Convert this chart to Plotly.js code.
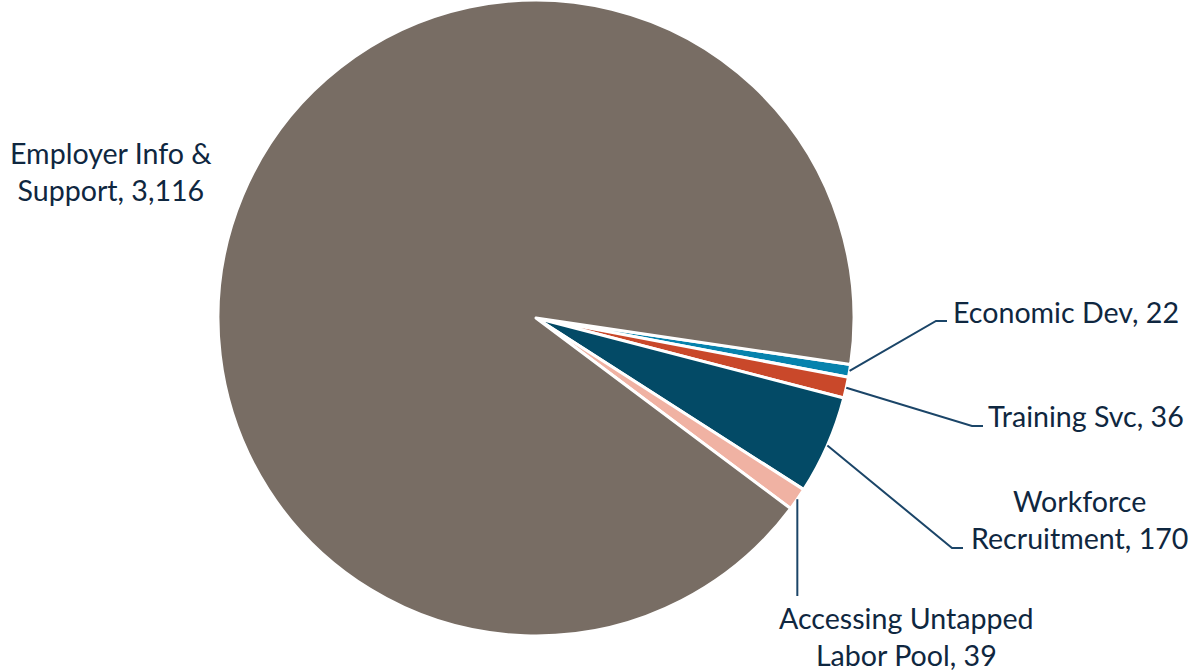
<!DOCTYPE html>
<html>
<head>
<meta charset="utf-8">
<script src="https://cdn.plot.ly/plotly-3.0.1.min.js"></script>
<style>html,body{margin:0;padding:0;background:#fff;}#chart{width:1193px;height:671px;}</style>
</head>
<body>
<div id="chart"></div>
<script>
// Data
const categories = ["Economic Dev", "Training Svc", "Workforce Recruitment", "Accessing Untapped Labor Pool", "Employer Info & Support"];
const values = [22, 36, 170, 39, 3116];
const labelTexts = ["Economic Dev, 22", "Training Svc, 36", "Workforce<br>Recruitment, 170", "Accessing Untapped<br>Labor Pool, 39", "Employer Info &<br>Support, 3,116"];
const colors = ["#0682ad", "#c9482a", "#034a66", "#f0b2a3", "#786d64"];

// Layout constants (styling)
const W = 1193, H = 671;
const cx = 536, cy = 318, R = 318;
const rotation = 98.4;
const textColor = "#0f2740";
const lineColor = "#1b4568";
const fontFamily = "Lato, 'Open Sans', sans-serif";
const fontSize = 28.6;

// label placement (pixels) and leader elbows
const labelPos = [
  {x: 951, y: 312, xanchor: "left", align: "left", elbow: [[936, 321], [947, 321]]},
  {x: 986, y: 416, xanchor: "left", align: "left", elbow: [[972, 426], [983, 426]]},
  {x: 1079, y: 519, xanchor: "center", align: "center", elbow: [[952, 548], [963, 548]]},
  {x: 906, y: 636, xanchor: "center", align: "center", elbow: [[null, 596]]},
  {x: 111, y: 172, xanchor: "center", align: "center", elbow: null}
];

const px = x => x / W;
const py = y => 1 - y / H;

const total = values.reduce((a, b) => a + b, 0);
let ang = rotation;
const shapes = [];
const annotations = [];
values.forEach((v, i) => {
  const span = v / total * 360;
  const mid = (ang + span / 2) * Math.PI / 180;
  ang += span;
  const sx = cx + R * Math.sin(mid);
  const sy = cy - R * Math.cos(mid);
  const lp = labelPos[i];
  if (lp.elbow) {
    let d = `M ${px(sx)} ${py(sy)}`;
    lp.elbow.forEach(p => {
      const ex = p[0] === null ? sx : p[0];
      d += ` L ${px(ex)} ${py(p[1])}`;
    });
    shapes.push({type: "path", xref: "paper", yref: "paper", path: d,
      line: {color: lineColor, width: 2}});
  }
  annotations.push({
    xref: "paper", yref: "paper", x: px(lp.x), y: py(lp.y),
    xanchor: lp.xanchor, yanchor: "middle", align: lp.align,
    text: labelTexts[i], showarrow: false,
    font: {family: fontFamily, size: fontSize, color: textColor}
  });
});

const trace = {
  type: "pie",
  labels: categories,
  values: values,
  sort: false,
  direction: "clockwise",
  rotation: rotation,
  textinfo: "none",
  hoverinfo: "label+value",
  marker: {colors: colors, line: {color: "#ffffff", width: 3}},
  domain: {x: [px(cx - R), px(cx + R)], y: [py(cy + R), py(cy - R)]},
  showlegend: false
};

const layout = {
  width: W, height: H,
  margin: {l: 0, r: 0, t: 0, b: 0},
  paper_bgcolor: "#ffffff",
  showlegend: false,
  shapes: shapes,
  annotations: annotations
};

Plotly.newPlot("chart", [trace], layout, {displayModeBar: false, staticPlot: true});
</script>
</body>
</html>
